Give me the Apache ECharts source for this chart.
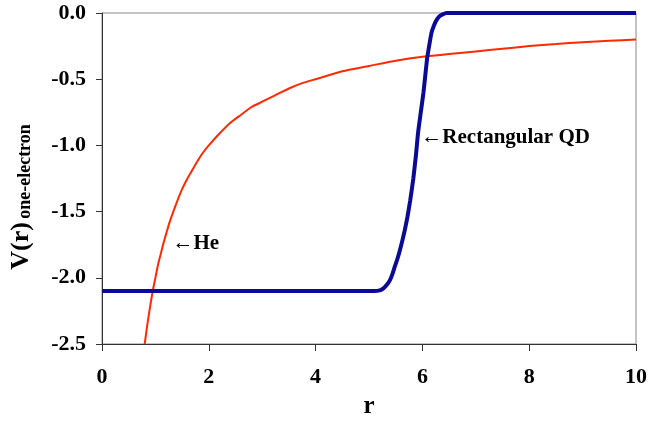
<!DOCTYPE html>
<html><head><meta charset="utf-8">
<script src="https://cdn.jsdelivr.net/npm/echarts@6/dist/echarts.min.js"></script>
<style>html,body{margin:0;padding:0;background:#fff}#c{width:650px;height:424px}</style>
</head><body><div id="c"></div>
<script>
// He one-electron potential: [r, V]
const heData = [[0.8,-2.5],[0.85,-2.35],[0.9,-2.22],[0.95,-2.1],[1.0,-2.0],[1.05,-1.9],[1.1,-1.82],[1.15,-1.74],[1.2,-1.67],[1.25,-1.6],[1.3,-1.54],[1.4,-1.43],[1.5,-1.33],[1.6,-1.25],[1.7,-1.18],[1.8,-1.11],[1.9,-1.05],[2.0,-1.0],[2.2,-0.91],[2.4,-0.83],[2.6,-0.77],[2.8,-0.71],[3.0,-0.67],[3.25,-0.62],[3.5,-0.57],[3.75,-0.53],[4,-0.5],[4.5,-0.44],[5,-0.4],[5.5,-0.36],[6,-0.33],[6.5,-0.31],[7,-0.29],[7.5,-0.27],[8,-0.25],[8.5,-0.235],[9,-0.22],[9.5,-0.21],[10,-0.2]];
// Rectangular QD potential: [r, V]
const qdData = [[0,-2.1],[5.1,-2.1],[5.2,-2.095],[5.27,-2.08],[5.33,-2.055],[5.39,-2.02],[5.44,-1.97],[5.48,-1.92],[5.53,-1.86],[5.58,-1.79],[5.63,-1.71],[5.67,-1.64],[5.72,-1.54],[5.77,-1.42],[5.83,-1.25],[5.88,-1.07],[5.92,-0.9],[5.97,-0.75],[6.02,-0.6],[6.06,-0.45],[6.09,-0.34],[6.13,-0.24],[6.17,-0.15],[6.22,-0.09],[6.27,-0.05],[6.32,-0.025],[6.38,-0.01],[6.45,0],[10,0]];
const xTicks = [0,2,4,6,8,10];
const yTicks = [-2.5,-2.0,-1.5,-1.0,-0.5,0.0];
const heLabelAt = [1.32,-1.74];
const qdLabelAt = [5.98,-0.94];

const font = 'Liberation Serif';
const chart = echarts.init(document.getElementById('c'));
chart.setOption({
  animation:false,
  grid:{left:102,right:11,top:13,bottom:76,show:true,borderColor:'#888',borderWidth:1},
  xAxis:{type:'value',min:xTicks[0],max:xTicks[xTicks.length-1],interval:2,
    name:'r',nameLocation:'middle',nameGap:50,
    nameTextStyle:{fontFamily:font,fontWeight:'bold',fontSize:25,color:'#000'},
    axisLine:{onZero:false,lineStyle:{color:'#333',width:1}},
    axisTick:{length:7,lineStyle:{color:'#333'}},
    axisLabel:{fontFamily:font,fontWeight:'bold',fontSize:22,color:'#000',margin:22},
    splitLine:{show:false}},
  yAxis:{type:'value',min:yTicks[0],max:yTicks[yTicks.length-1],interval:0.5,
    axisLine:{show:true,onZero:false,lineStyle:{color:'#333',width:1}},
    axisTick:{show:true,length:6,lineStyle:{color:'#333'}},
    axisLabel:{fontFamily:font,fontWeight:'bold',fontSize:22,color:'#000',margin:16,
      formatter:v=>v.toFixed(1)},
    splitLine:{show:false}},
  graphic:[{type:'text',x:21,y:197,rotation:Math.PI/2,
    style:{text:'{a|V(r)} {b|one-electron}',align:'center',verticalAlign:'middle',
      rich:{a:{fontFamily:font,fontWeight:'bold',fontSize:26,fill:'#000',verticalAlign:'bottom'},
            b:{fontFamily:font,fontWeight:'bold',fontSize:18,fill:'#000',verticalAlign:'bottom'}}}}],
  series:[
    {type:'line',data:heData,showSymbol:false,smooth:0.2,
     lineStyle:{color:'#ff2a00',width:2},itemStyle:{color:'#ff2a00'},
     markPoint:{symbol:'circle',symbolSize:0,silent:true,
       data:[{coord:heLabelAt,label:{show:true,position:'right',distance:0,formatter:'←He',
         fontFamily:font,fontWeight:'bold',fontSize:21,color:'#000'}}]}},
    {type:'line',data:qdData,showSymbol:false,smooth:0.2,
     lineStyle:{color:'#0a0a96',width:4},itemStyle:{color:'#0a0a96'},
     markPoint:{symbol:'circle',symbolSize:0,silent:true,
       data:[{coord:qdLabelAt,label:{show:true,position:'right',distance:0,formatter:'←Rectangular QD',
         fontFamily:font,fontWeight:'bold',fontSize:21,color:'#000'}}]}}
  ]
});
</script></body></html>
